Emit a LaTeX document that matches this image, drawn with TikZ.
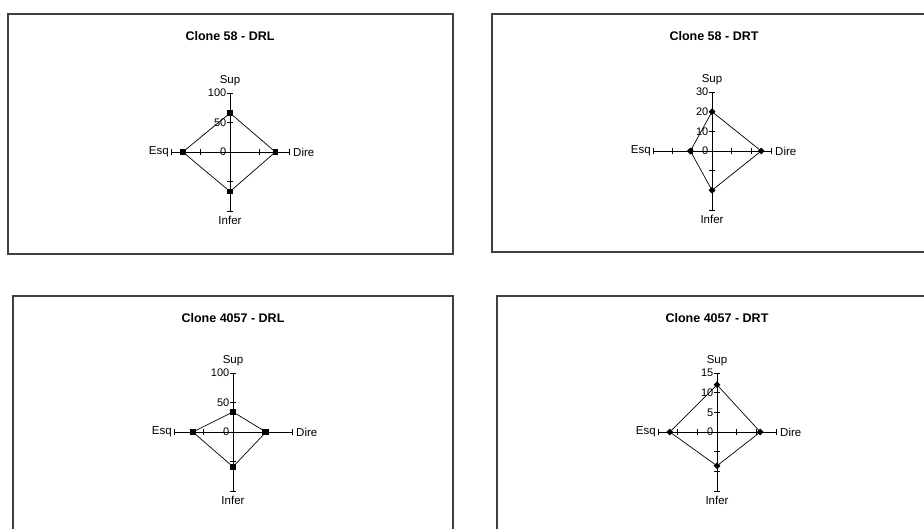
\documentclass[tikz,border=0pt]{standalone}
\usepackage{fontspec}
\setmainfont{Liberation Sans}
\usetikzlibrary{shapes.geometric,positioning}

\tikzset{
  frame/.style={draw=black!75, line width=1.3pt},
  charttitle/.style={font=\bfseries\fontsize{12.5}{14}\selectfont},
  axis/.style={draw=black, line width=0.9pt},
  ticklabel/.style={font=\fontsize{11}{12}\selectfont, inner sep=0pt, anchor=east},
  axislabel/.style={font=\fontsize{11.5}{13}\selectfont, inner sep=0pt},
  series/.style={draw=black, line width=0.7pt},
  sqmark/.style={rectangle, fill=black, inner sep=0pt, minimum size=5.5pt},
  diamark/.style={diamond, fill=black, inner sep=0pt, minimum size=7pt},
}

% axes of one radar chart, centred at the scope origin (radius 59)
% #1 prefix, #2 number of divisions, #3 labels of the Sup axis from 0 up
\newcommand{\radaraxes}[3]{%
  \coordinate (#1c) at (0,0);
  \coordinate (#1n) at (0,-59);
  \coordinate (#1e) at (59,0);
  \coordinate (#1s) at (0,59);
  \coordinate (#1w) at (-59,0);
  \draw[axis] (#1w) -- (#1e);
  \draw[axis] (#1n) -- (#1s);
  \foreach \k in {1,...,#2} {
    \pgfmathsetmacro{\t}{59*\k/#2}
    \draw[axis] (-3,-\t) -- (3,-\t);
    \draw[axis] (-3,\t) -- (3,\t);
    \draw[axis] (-\t,-3) -- (-\t,3);
    \draw[axis] (\t,-3) -- (\t,3);
  }
  \foreach \lab [count=\k from 0] in {#3}
    \node[ticklabel] (#1tick\k) at (-3.5,{-59*\k/#2}) {\lab};
  \node[axislabel, anchor=south] (#1sup) at ([yshift=7]#1n) {Sup};
  \node[axislabel, anchor=north] (#1inf) at ([yshift=-5]#1s) {Infer};
  \node[axislabel, anchor=east] (#1esq) at ([xshift=-2]#1w) {Esq};
  \node[axislabel, anchor=west] (#1dir) at ([xshift=4]#1e) {Dire};
}

% data polygon: #1 prefix, #2 max, #3 sup, #4 dire, #5 infer, #6 esq, #7 marker
\newcommand{\radardata}[7]{%
  \coordinate (#1ps) at (0,{-59*#3/#2});
  \coordinate (#1pd) at ({59*#4/#2},0);
  \coordinate (#1pi) at (0,{59*#5/#2});
  \coordinate (#1pe) at ({-59*#6/#2},0);
  \draw[series] (#1ps) -- (#1pd) -- (#1pi) -- (#1pe) -- cycle;
  \foreach \p in {ps,pd,pi,pe}
    \node[#7] (#1m\p) at (#1\p) {};
}

\begin{document}
\begin{tikzpicture}[x=1pt,y=-1pt]
\useasboundingbox (0,0) rectangle (924,529);

% frames
\draw[frame] (8,14) rectangle (453,254);
\draw[frame] (492,14) rectangle (937,252);
\draw[frame] (13,296) rectangle (453,536);
\draw[frame] (497,296) rectangle (937,536);

\node[charttitle] (t1) at (230,36) {Clone 58 - DRL};
\node[charttitle] (t2) at (714,36) {Clone 58 - DRT};
\node[charttitle] (t3) at (233,318) {Clone 4057 - DRL};
\node[charttitle] (t4) at (717,318) {Clone 4057 - DRT};

\begin{scope}[shift={(230,152)}]
  \radaraxes{a}{2}{0,50,100}
  \radardata{a}{100}{66}{77}{67}{80}{sqmark}
\end{scope}

\begin{scope}[shift={(712,151)}]
  \radaraxes{b}{3}{0,10,20,30}
  \radardata{b}{30}{20}{25}{20}{11}{diamark}
\end{scope}

\begin{scope}[shift={(233,432)}]
  \radaraxes{c}{2}{0,50,100}
  \radardata{c}{100}{34}{56}{59}{68}{sqmark}
\end{scope}

\begin{scope}[shift={(717,432)}]
  \radaraxes{d}{3}{0,5,10,15}
  \radardata{d}{15}{12}{11}{8.6}{12}{diamark}
\end{scope}

\end{tikzpicture}
\end{document}
